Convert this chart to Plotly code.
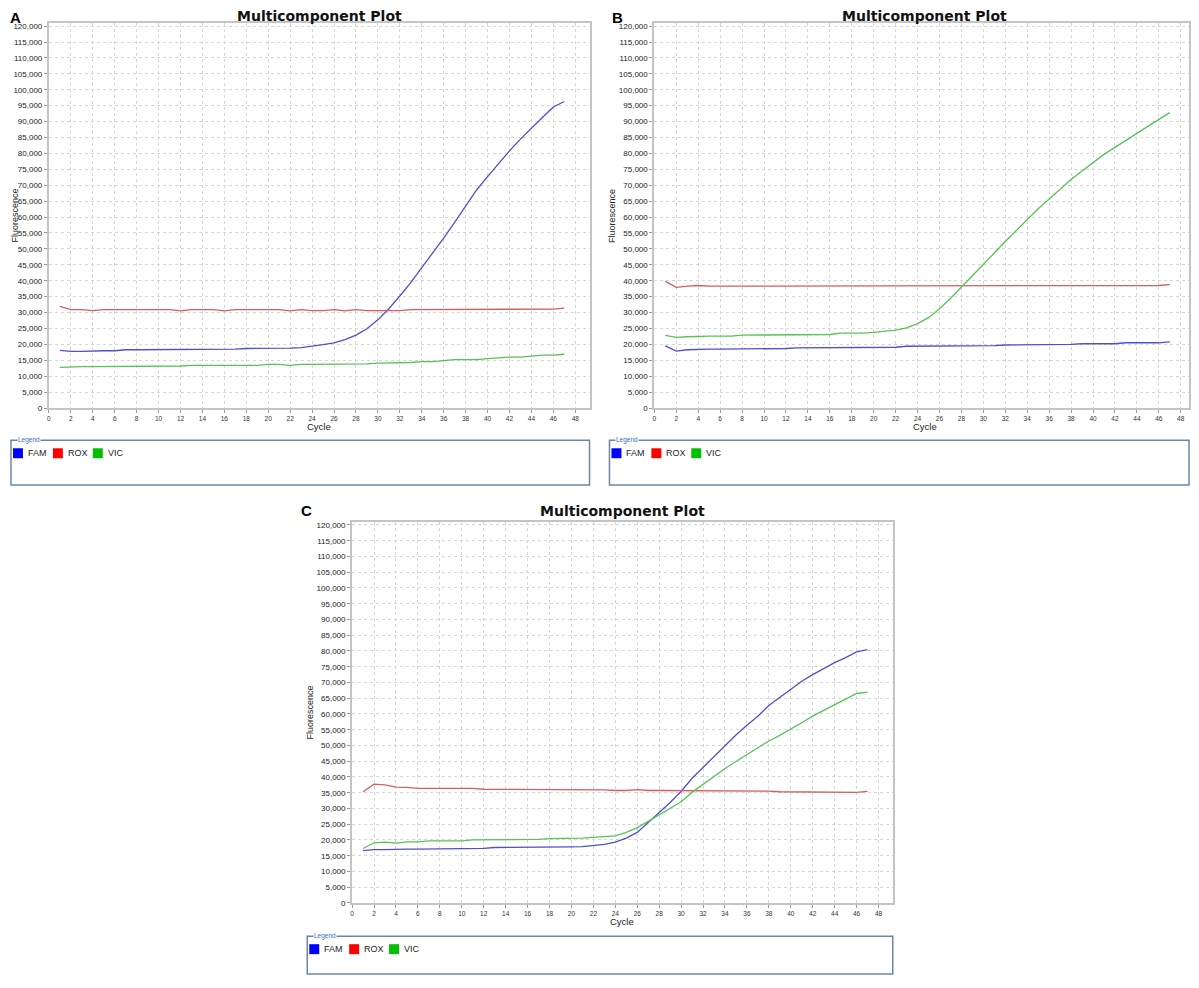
import plotly.graph_objects as go

# the page body adds an 8px margin on each side, so the figure is drawn smaller and shifted
PAD = 8
W, H = 1199 - 2 * PAD, 988 - 2 * PAD
RIGHT = PAD + W - 1

cycles = list(range(1, 48))
dyes = ["FAM", "ROX", "VIC"]

# panel A
fam_a = [18100, 17800, 17800, 18000, 18000, 18000, 18300, 18300, 18300, 18300, 18300, 18300,
         18500, 18500, 18500, 18500, 18500, 18700, 18700, 18700, 18700, 18800, 19000, 19400,
         19900, 20500, 21500, 22900, 24900, 27700, 31200, 35200, 39400, 44100, 48700, 53400,
         58300, 63300, 68500, 72700, 76900, 80800, 84500, 88000, 91300, 94600, 96300]
rox_a = [31900, 30900, 30900, 30600, 30900, 30900, 30900, 30900, 30900, 30900, 30900, 30500,
         30900, 30900, 30900, 30500, 30900, 30900, 30900, 30900, 30900, 30500, 30900, 30600,
         30600, 30900, 30500, 30900, 30600, 30600, 30600, 30600, 30900, 30900, 30900, 30900,
         30900, 30900, 30900, 30900, 31100, 31100, 31100, 31100, 31100, 31100, 31400]
vic_a = [12800, 13000, 13000, 13000, 13000, 13000, 13200, 13200, 13200, 13200, 13200, 13200,
         13400, 13400, 13400, 13400, 13400, 13400, 13400, 13700, 13700, 13400, 13700, 13700,
         13700, 13700, 13700, 13900, 13900, 14100, 14100, 14300, 14300, 14600, 14600, 14900,
         15200, 15200, 15200, 15500, 15800, 16000, 16000, 16300, 16600, 16600, 16900]

# panel B
fam_b = [19500, 17900, 18300, 18500, 18500, 18500, 18500, 18700, 18700, 18700, 18700, 18700,
         18900, 18900, 18900, 18900, 18900, 19100, 19100, 19100, 19100, 19100, 19400, 19400,
         19400, 19400, 19400, 19600, 19600, 19600, 19600, 19800, 19800, 19800, 20000, 20000,
         20000, 20000, 20200, 20200, 20200, 20200, 20500, 20500, 20500, 20500, 20800]
rox_b = [39800, 37900, 38300, 38500, 38300, 38300, 38300, 38300, 38300, 38300, 38300, 38300,
         38300, 38300, 38300, 38300, 38300, 38300, 38300, 38500, 38500, 38300, 38500, 38300,
         38500, 38300, 38300, 38300, 38300, 38500, 38300, 38500, 38500, 38500, 38300, 38300,
         38300, 38500, 38500, 38500, 38500, 38500, 38500, 38500, 38500, 38500, 38800]
vic_b = [22800, 22200, 22400, 22600, 22600, 22600, 22600, 22900, 22900, 22900, 22900, 22900,
         23100, 23100, 23100, 23100, 23500, 23500, 23500, 23800, 24100, 24500, 25200, 26500,
         28400, 31200, 34400, 37900, 41400, 44900, 48700, 52300, 55800, 59200, 62600, 65700,
         68800, 71800, 74500, 77100, 79700, 81900, 84200, 86300, 88500, 90700, 92800]

# panel C
fam_c = [16600, 16900, 16900, 17100, 17100, 17100, 17100, 17300, 17300, 17300, 17300, 17300,
         17600, 17600, 17600, 17600, 17600, 17600, 17800, 17800, 17900, 18200, 18600, 19300,
         20600, 22400, 25400, 28700, 31900, 35400, 39600, 43000, 46700, 50100, 53300, 56400,
         59300, 62700, 65300, 68000, 70400, 72500, 74500, 76300, 77900, 79700, 80400]
rox_c = [35300, 37700, 37500, 36800, 36700, 36400, 36400, 36400, 36400, 36400, 36400, 36100,
         36100, 36100, 36100, 36100, 36100, 36100, 35900, 35900, 35900, 35900, 35900, 35700,
         35700, 36000, 35700, 35700, 35700, 35700, 35600, 35600, 35600, 35500, 35500, 35500,
         35500, 35500, 35300, 35300, 35300, 35300, 35300, 35100, 35100, 35100, 35400]
vic_c = [17300, 19100, 19300, 19000, 19400, 19400, 19700, 19700, 19700, 19700, 20000, 20000,
         20000, 20200, 20200, 20200, 20200, 20400, 20400, 20400, 20600, 20800, 21100, 21300,
         22400, 23900, 25900, 28000, 30000, 32100, 35100, 37700, 40300, 42700, 44900, 47100,
         49300, 51400, 53200, 55100, 57200, 59300, 61100, 62700, 64600, 66500, 66900]

line_colors = {"FAM": "#4f4fcc", "ROX": "#d25e5e", "VIC": "#55c455"}
swatch_colors = {"FAM": "#0000ff", "ROX": "#ff0000", "VIC": "#00c000"}

series = {
    "A": [fam_a, rox_a, vic_a],
    "B": [fam_b, rox_b, vic_b],
    "C": [fam_c, rox_c, vic_c],
}

# pixel layout of each panel (window pixels): plot left/right/top, axis bottom, legend box
panels = {
    "A": dict(l=47, r=589, t=22, b=409.5, letter=(14, 16.5), box=(9, 589, 442, 487)),
    "B": dict(l=654, r=1196, t=22, b=409.5, letter=(617, 16.5), box=(609, 1196, 442, 487)),
    "C": dict(l=351, r=893, t=524, b=907.5, letter=(305, 513), box=(306, 893, 941, 979)),
}


def px(x):
    return (min(x, RIGHT) - PAD) / W


def py(y):
    return 1 - (y - PAD) / H


fig = go.Figure()
shapes = []
annotations = []
font = "Liberation Sans, Arial, sans-serif"
title_font = "DejaVu Sans, Verdana, sans-serif"


def label(x, y, text, size, color="#222222", xanchor="center", family=font, **kw):
    annotations.append(dict(x=px(x), y=py(y), text=text, showarrow=False,
                            xref="paper", yref="paper", xanchor=xanchor, yanchor="middle",
                            font=dict(size=size, color=color, family=family), **kw))


for i, (name, p) in enumerate(panels.items()):
    n = "" if i == 0 else str(i + 1)
    for dye, vals in zip(dyes, series[name]):
        fig.add_trace(go.Scatter(x=cycles, y=vals, mode="lines", name=dye,
                                 line=dict(color=line_colors[dye], width=1.3),
                                 xaxis="x" + n, yaxis="y" + n, showlegend=False))

    axis_style = dict(showgrid=True, gridcolor="#d6d6d6", griddash="dot", gridwidth=1,
                      zeroline=False, showline=True, linecolor="#c4c4c4", linewidth=2,
                      mirror=True, ticks="outside", ticklen=3, tickcolor="#999999")
    # keep cycle spacing at 11px even when the right edge is clamped
    xmax = 49.3 * (min(p["r"], RIGHT) - p["l"]) / (p["r"] - p["l"])
    fig.layout["xaxis" + n] = dict(
        domain=[px(p["l"]), px(p["r"])], anchor="y" + n, range=[0, xmax], dtick=2, tick0=0,
        tickfont=dict(size=6.5, color="#333333", family=font), **axis_style)
    fig.layout["yaxis" + n] = dict(
        domain=[py(p["b"]), py(p["t"])], anchor="x" + n, range=[0, 121000], dtick=5000,
        tick0=0, tickformat=",", tickfont=dict(size=8, color="#222222", family=font),
        **axis_style)

    cx = (p["l"] + p["r"]) / 2
    label(cx, max(p["t"] - 11, 15), "<b>Multicomponent Plot</b>", 14, "#111111",
          family=title_font)
    label(p["letter"][0], p["letter"][1], "<b>%s</b>" % name, 15, "#000000")
    label(cx, p["b"] + 19, "Cycle", 9.5)
    label(max(p["l"] - 42, 13), (p["t"] + p["b"]) / 2, "Fluorescence", 9, textangle=-90)

    # legend box
    bl, br, bt, bb = p["box"]
    shapes.append(dict(type="rect", xref="paper", yref="paper", x0=px(bl), x1=px(br),
                       y0=py(bb), y1=py(bt), line=dict(color="#6a88a4", width=1.5),
                       fillcolor="rgba(0,0,0,0)"))
    label(bl + 6, bt, "Legend", 6.5, "#3b6cc0", xanchor="left", bgcolor="#ffffff", borderpad=0)
    for dye, o in zip(dyes, [0, 40, 80]):
        sx = bl + 2 + o
        shapes.append(dict(type="rect", xref="paper", yref="paper", x0=px(sx), x1=px(sx + 10),
                           y0=py(bt + 18), y1=py(bt + 8), line=dict(width=0),
                           fillcolor=swatch_colors[dye]))
        label(sx + 13, bt + 13, dye, 9, xanchor="left")

fig.update_layout(width=W, height=H, margin=dict(l=0, r=0, t=0, b=0),
                  paper_bgcolor="#ffffff", plot_bgcolor="#ffffff",
                  shapes=shapes, annotations=annotations, showlegend=False)

fig.write_html("out.html")
